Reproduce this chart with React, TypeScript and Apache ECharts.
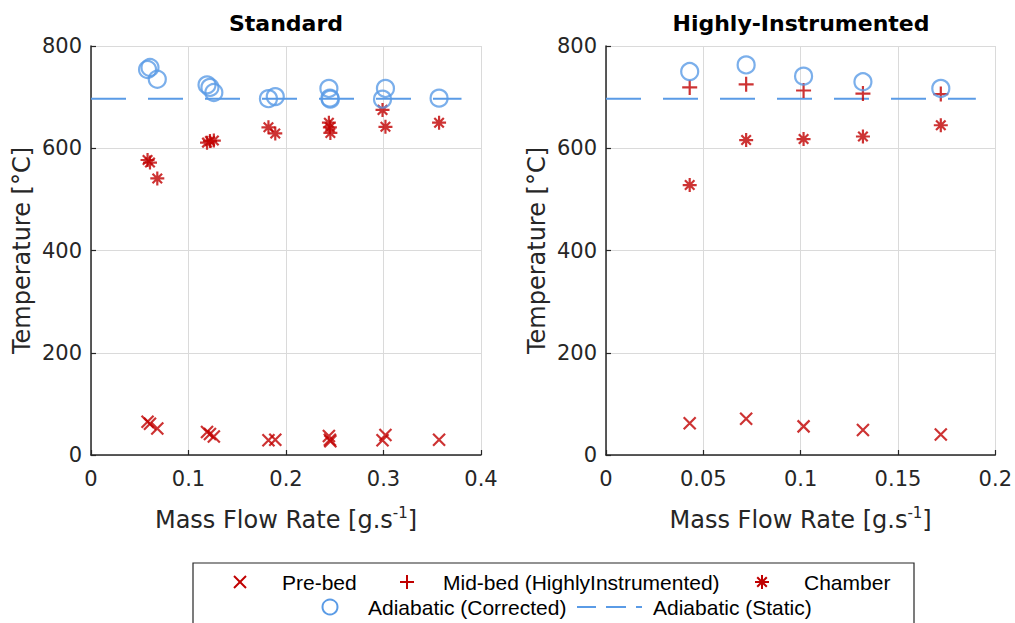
import React, { useEffect, useRef } from "react";
import * as echarts from "echarts";

// ---------- data ----------
// Standard configuration
const stdMassFlow = [0.058, 0.0605, 0.068, 0.119, 0.122, 0.126, 0.182, 0.189, 0.244, 0.245, 0.2455, 0.299, 0.302, 0.357];
const stdPreBed = [65, 61, 52, 45, 41, 36, 29, 30, 37, 30, 27, 29, 39, 30];
const stdChamber = [577, 572, 541, 611, 614, 615, 641, 629, 650, 641, 630, 675, 642, 650];
const stdAdiabaticCorrected = [754, 758, 735, 724, 719, 709, 697, 701, 717, 698, 696, 696, 717, 698];
const stdAdiabaticStatic = 697;
const stdStaticRange = [0, 0.38];

// Highly-Instrumented configuration
const hiMassFlow = [0.043, 0.072, 0.1015, 0.132, 0.172];
const hiPreBed = [62, 71, 56, 49, 40];
const hiMidBed = [719, 725, 713, 707, 706];
const hiChamber = [528, 616, 618, 623, 645];
const hiAdiabaticCorrected = [750, 763, 741, 730, 717];
const hiAdiabaticStatic = 697;
const hiStaticRange = [0, 0.19];

const titles = ["Standard", "Highly-Instrumented"];
const legendNames = ["Pre-bed", "Mid-bed (HighlyInstrumented)", "Chamber", "Adiabatic (Corrected)", "Adiabatic (Static)"];

// ---------- styles ----------
const RED = "#c00000";
const BLUE = "#5a9be6";
const INK = "#262626";
const GRIDC = "#dadada";
const AXFONT = "DejaVu Sans";
const LGFONT = "Liberation Sans, Arial, sans-serif";

const CROSS = "path://M0,0L10,10M10,0L0,10";
const PLUS = "path://M5,0L5,10M0,5L10,5";
const STAR = "path://M5,0L5,10M0,5L10,5M1.6,1.6L8.4,8.4M8.4,1.6L1.6,8.4";

const pairs = (xs: number[], ys: number[]) => xs.map((x, i) => [x, ys[i]]);

function scatter(name: string, xs: number[], ys: number[], idx: number, symbol: string, size: number, color: string) {
  return {
    name,
    type: "scatter",
    xAxisIndex: idx,
    yAxisIndex: idx,
    symbol,
    symbolSize: size,
    data: pairs(xs, ys),
    itemStyle: { color: "transparent", borderColor: color, borderWidth: 2.2 },
    emphasis: { disabled: true },
    silent: true,
  };
}

function staticLine(name: string, range: number[], value: number, idx: number) {
  return {
    name,
    type: "line",
    xAxisIndex: idx,
    yAxisIndex: idx,
    showSymbol: false,
    symbol: "none",
    data: range.map((x) => [x, value]),
    lineStyle: { color: BLUE, width: 2, type: [35, 22] },
    silent: true,
    z: 1,
  };
}

function xAxis(idx: number, max: number, interval: number) {
  return {
    type: "value",
    gridIndex: idx,
    min: 0,
    max,
    interval,
    name: "Mass Flow Rate [g.s{sup|-1}]",
    nameLocation: "middle",
    nameGap: 50,
    nameTextStyle: {
      color: INK,
      fontFamily: AXFONT,
      fontSize: 24,
      lineHeight: 30,
      rich: { sup: { fontSize: 15, fontFamily: AXFONT, color: INK, verticalAlign: "top", lineHeight: 30 } },
    },
    axisLine: { show: true, onZero: false, lineStyle: { color: INK, width: 1.5 } },
    axisTick: { show: true, inside: true, length: 5, lineStyle: { color: INK, width: 1.2 } },
    splitLine: { show: true, lineStyle: { color: GRIDC, width: 1 } },
    axisLabel: { color: INK, fontFamily: AXFONT, fontSize: 21, margin: 13 },
  };
}

function yAxis(idx: number) {
  return {
    type: "value",
    gridIndex: idx,
    min: 0,
    max: 800,
    interval: 200,
    name: "Temperature [°C]",
    nameLocation: "middle",
    nameRotate: 90,
    nameGap: 57,
    nameTextStyle: { color: INK, fontFamily: AXFONT, fontSize: 24 },
    axisLine: { show: true, onZero: false, lineStyle: { color: INK, width: 1.5 } },
    axisTick: { show: true, inside: true, length: 5, lineStyle: { color: INK, width: 1.2 } },
    splitLine: { show: true, lineStyle: { color: GRIDC, width: 1 } },
    axisLabel: { color: INK, fontFamily: AXFONT, fontSize: 21, margin: 9 },
  };
}

function lineEl(x1: number, y1: number, x2: number, y2: number, color: string) {
  return { type: "line", shape: { x1, y1, x2, y2 }, style: { stroke: color, lineWidth: 2 }, silent: true };
}

function legendText(text: string, x: number, y: number) {
  return {
    type: "text",
    x,
    y,
    style: { text, fill: "#000", font: `21px ${LGFONT}`, textVerticalAlign: "middle", textAlign: "left" },
    silent: true,
  };
}

export default function App() {
  const ref = useRef<HTMLDivElement>(null);

  useEffect(() => {
    if (!ref.current) return;
    const chart = echarts.init(ref.current, undefined, { renderer: "svg" });
    const r1 = 582;
    const r2 = 607;
    const option = {
      animation: false,
      backgroundColor: "#ffffff",
      grid: [
        { left: 91, top: 46, width: 390, height: 409, containLabel: false },
        { left: 606, top: 46, width: 390, height: 409, containLabel: false },
      ],
      xAxis: [xAxis(0, 0.4, 0.1), xAxis(1, 0.2, 0.05)],
      yAxis: [yAxis(0), yAxis(1)],
      series: [
        staticLine(legendNames[4], stdStaticRange, stdAdiabaticStatic, 0),
        scatter(legendNames[0], stdMassFlow, stdPreBed, 0, CROSS, 12, RED),
        scatter(legendNames[2], stdMassFlow, stdChamber, 0, STAR, 14, RED),
        scatter(legendNames[3], stdMassFlow, stdAdiabaticCorrected, 0, "circle", 17, BLUE),
        staticLine(legendNames[4], hiStaticRange, hiAdiabaticStatic, 1),
        scatter(legendNames[0], hiMassFlow, hiPreBed, 1, CROSS, 12, RED),
        scatter(legendNames[1], hiMassFlow, hiMidBed, 1, PLUS, 15, RED),
        scatter(legendNames[2], hiMassFlow, hiChamber, 1, STAR, 14, RED),
        scatter(legendNames[3], hiMassFlow, hiAdiabaticCorrected, 1, "circle", 17, BLUE),
      ],
      graphic: [
        {
          type: "text",
          x: 286,
          y: 23,
          style: { text: titles[0], fill: "#000", font: `bold 22px ${AXFONT}`, textAlign: "center", textVerticalAlign: "middle" },
        },
        {
          type: "text",
          x: 801,
          y: 23,
          style: { text: titles[1], fill: "#000", font: `bold 22px ${AXFONT}`, textAlign: "center", textVerticalAlign: "middle" },
        },
        {
          type: "group",
          children: [
            { type: "rect", shape: { x: 193, y: 563, width: 721, height: 80 }, style: { fill: "#fff", stroke: INK, lineWidth: 1.2 } },
            // Pre-bed
            lineEl(234, r1 - 6, 246, r1 + 6, RED),
            lineEl(246, r1 - 6, 234, r1 + 6, RED),
            legendText(legendNames[0], 282, r1),
            // Mid-bed
            lineEl(407, r1 - 7, 407, r1 + 7, RED),
            lineEl(400, r1, 414, r1, RED),
            legendText(legendNames[1], 443, r1),
            // Chamber
            lineEl(762, r1 - 7, 762, r1 + 7, RED),
            lineEl(755, r1, 769, r1, RED),
            lineEl(757.2, r1 - 4.8, 766.8, r1 + 4.8, RED),
            lineEl(766.8, r1 - 4.8, 757.2, r1 + 4.8, RED),
            legendText(legendNames[2], 804, r1),
            // Adiabatic corrected
            { type: "circle", shape: { cx: 330, cy: r2, r: 7.5 }, style: { fill: "none", stroke: BLUE, lineWidth: 2 }, silent: true },
            legendText(legendNames[3], 368, r2),
            // Adiabatic static
            lineEl(577, r2, 596, r2, BLUE),
            lineEl(606, r2, 626, r2, BLUE),
            lineEl(636, r2, 642, r2, BLUE),
            legendText(legendNames[4], 653, r2),
          ],
        },
      ],
    };
    chart.setOption(option as any);
    return () => chart.dispose();
  }, []);

  return (
    <div
      ref={ref}
      style={{ position: "fixed", left: 0, top: 0, width: 1015, height: 623, background: "#fff" }}
    />
  );
}
